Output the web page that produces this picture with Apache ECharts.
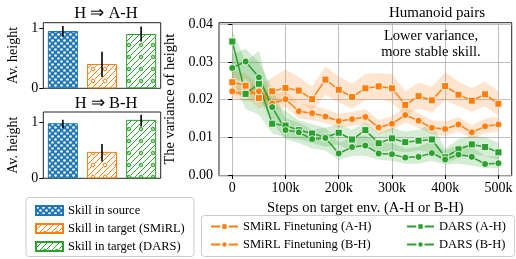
<!DOCTYPE html>
<html>
<head>
<meta charset="utf-8">
<script src="https://cdn.jsdelivr.net/npm/echarts@6/dist/echarts.min.js"></script>
<style>
html,body{margin:0;padding:0;background:#fff}
#chart{width:516px;height:259px}
</style>
</head>
<body>
<div id="chart"></div>
<script>
// --- bar panels (Av. height) ---
const skillNames = ['Skill in source', 'Skill in target (SMiRL)', 'Skill in target (DARS)']
const barCats = ['source', 'smirl', 'dars']
const barsAH = [0.955, 0.405, 0.905]
const errLoAH = [0.86, 0.19, 0.78]
const errHiAH = [1.04, 0.61, 1.03]
const barsBH = [0.98, 0.47, 1.04]
const errLoBH = [0.89, 0.30, 0.92]
const errHiBH = [1.04, 0.61, 1.13]
const barTicks = [0, 1]

// --- variance of height vs steps ---
const steps = [0, 25000, 50000, 75000, 100000, 125000, 150000, 175000, 200000, 225000, 250000,
    275000, 300000, 325000, 350000, 375000, 400000, 425000, 450000, 475000, 500000]
const xTicks = [0, 100000, 200000, 300000, 400000, 500000]
const yTicks = [0, 0.01, 0.02, 0.03, 0.04]

const smirlA = [0.0246, 0.0237, 0.0204, 0.0222, 0.0231, 0.0224, 0.0201, 0.0253, 0.0226, 0.0207, 0.0230,
    0.0235, 0.0230, 0.0186, 0.0209, 0.0198, 0.0236, 0.0213, 0.0197, 0.0214, 0.0189]
const smirlALo = [0.0212, 0.0208, 0.0176, 0.0190, 0.0192, 0.0192, 0.0172, 0.0212, 0.0192, 0.0176, 0.0198,
    0.0202, 0.0192, 0.0158, 0.0176, 0.0166, 0.0198, 0.0182, 0.0168, 0.0182, 0.0158]
const smirlAHi = [0.0278, 0.0268, 0.0238, 0.0258, 0.0280, 0.0260, 0.0235, 0.0288, 0.0262, 0.0242, 0.0268,
    0.0270, 0.0268, 0.0222, 0.0245, 0.0235, 0.0272, 0.0248, 0.0230, 0.0248, 0.0222]

const smirlB = [0.0222, 0.0213, 0.0222, 0.0190, 0.0201, 0.0169, 0.0164, 0.0155, 0.0143, 0.0148, 0.0154,
    0.0126, 0.0136, 0.0159, 0.0144, 0.0125, 0.0122, 0.0134, 0.0113, 0.0129, 0.0134]
const smirlBLo = [0.0205, 0.0195, 0.0200, 0.0170, 0.0180, 0.0150, 0.0145, 0.0138, 0.0125, 0.0130, 0.0135,
    0.0108, 0.0118, 0.0140, 0.0125, 0.0108, 0.0104, 0.0115, 0.0096, 0.0110, 0.0115]
const smirlBHi = [0.0240, 0.0232, 0.0245, 0.0212, 0.0222, 0.0190, 0.0185, 0.0175, 0.0162, 0.0168, 0.0175,
    0.0146, 0.0156, 0.0180, 0.0164, 0.0145, 0.0142, 0.0154, 0.0132, 0.0150, 0.0155]

const darsA = [0.0354, 0.0215, 0.0242, 0.0136, 0.0131, 0.0119, 0.0110, 0.0100, 0.0112, 0.0094, 0.0119,
    0.0084, 0.0097, 0.0087, 0.0091, 0.0094, 0.0047, 0.0068, 0.0081, 0.0074, 0.0060]
const darsALo = [0.0255, 0.0175, 0.0160, 0.0110, 0.0100, 0.0095, 0.0085, 0.0075, 0.0080, 0.0065, 0.0085,
    0.0060, 0.0065, 0.0060, 0.0065, 0.0060, 0.0030, 0.0045, 0.0055, 0.0050, 0.0040]
const darsAHi = [0.0385, 0.0300, 0.0330, 0.0190, 0.0170, 0.0145, 0.0135, 0.0125, 0.0135, 0.0120, 0.0140,
    0.0110, 0.0125, 0.0115, 0.0120, 0.0135, 0.0070, 0.0095, 0.0105, 0.0100, 0.0085]

const darsB = [0.0284, 0.0301, 0.0259, 0.0180, 0.0119, 0.0113, 0.0095, 0.0098, 0.0057, 0.0074, 0.0078,
    0.0057, 0.0055, 0.0046, 0.0048, 0.0058, 0.0041, 0.0054, 0.0048, 0.0029, 0.0031]
const darsBLo = [0.0250, 0.0255, 0.0205, 0.0140, 0.0095, 0.0085, 0.0070, 0.0065, 0.0040, 0.0050, 0.0050,
    0.0040, 0.0038, 0.0030, 0.0030, 0.0038, 0.0028, 0.0030, 0.0025, 0.0018, 0.0018]
const darsBHi = [0.0320, 0.0335, 0.0300, 0.0230, 0.0150, 0.0140, 0.0120, 0.0125, 0.0085, 0.0100, 0.0105,
    0.0085, 0.0085, 0.0070, 0.0075, 0.0090, 0.0065, 0.0080, 0.0075, 0.0050, 0.0050]

const BLUE = '#1f77b4', ORANGE = '#ff7f0e', GREEN = '#2ca02c'
const FONT = 'Liberation Serif'

// hatch patterns
function makePattern(kind, color) {
    const c = document.createElement('canvas')
    const s = kind === 'dots' ? 6 : 12
    c.width = s; c.height = s
    const g = c.getContext('2d')
    if (kind === 'dots') {
        g.fillStyle = color
        g.fillRect(0, 0, s, s)
        g.fillStyle = '#fff'
        ;[[1.5, 1.5], [4.5, 4.5]].forEach(p => {
            g.beginPath(); g.arc(p[0], p[1], 1.3, 0, Math.PI * 2); g.fill()
        })
    } else {
        g.fillStyle = '#fff'
        g.fillRect(0, 0, s, s)
        g.strokeStyle = color
        g.lineWidth = 1
        for (let k = -12; k <= 24; k += 6) {
            g.beginPath(); g.moveTo(k, s); g.lineTo(k + s, 0); g.stroke()
        }
        g.fillStyle = '#fff'
        g.beginPath(); g.arc(9, 9, 2.4, 0, Math.PI * 2); g.fill()
        g.beginPath(); g.arc(9, 9, 1.8, 0, Math.PI * 2); g.stroke()
        if (kind === 'ringdot') {
            g.fillStyle = color
            g.beginPath(); g.arc(9, 9, 0.8, 0, Math.PI * 2); g.fill()
        }
    }
    return { image: c, repeat: 'repeat' }
}
const barStyles = [
    { color: makePattern('dots', BLUE), borderColor: BLUE, borderWidth: 1 },
    { color: makePattern('ring', ORANGE), borderColor: ORANGE, borderWidth: 1 },
    { color: makePattern('ringdot', GREEN), borderColor: GREEN, borderWidth: 1 }
]

const txt = { fontFamily: FONT, color: '#000' }

function barSeries(gi, vals, lo, hi) {
    const out = []
    vals.forEach((v, i) => {
        const d = vals.map((_, j) => j === i ? v : '-')
        out.push({
            type: 'bar', name: skillNames[i], xAxisIndex: gi, yAxisIndex: gi,
            data: d, barWidth: 30, barGap: '-100%', itemStyle: barStyles[i], silent: true
        })
    })
    out.push({
        type: 'custom', xAxisIndex: gi, yAxisIndex: gi, silent: true, z: 5,
        data: vals.map((_, i) => [i, lo[i], hi[i]]),
        renderItem(params, api) {
            const a = api.coord([api.value(0), api.value(1)])
            const b = api.coord([api.value(0), api.value(2)])
            return { type: 'line', shape: { x1: a[0], y1: a[1], x2: b[0], y2: b[1] }, style: { stroke: '#000', lineWidth: 1.6 } }
        }
    })
    return out
}

function bandSeries(lo, hi, color) {
    return {
        type: 'custom', xAxisIndex: 2, yAxisIndex: 2, silent: true, z: 1,
        data: steps.map((s, i) => [s, lo[i], hi[i]]),
        encode: { x: 0, y: [1, 2] },
        renderItem(params, api) {
            if (params.dataIndex !== 0) return null
            const pts = []
            for (let i = 0; i < steps.length; i++) pts.push(api.coord([steps[i], hi[i]]))
            for (let i = steps.length - 1; i >= 0; i--) pts.push(api.coord([steps[i], lo[i]]))
            return { type: 'polygon', shape: { points: pts }, style: { fill: color, stroke: null } }
        }
    }
}

function lineSeries(name, vals, color, symbol) {
    return {
        type: 'line', name, xAxisIndex: 2, yAxisIndex: 2, z: 3,
        data: steps.map((s, i) => [s, vals[i]]),
        symbol, symbolSize: 7, showAllSymbol: true,
        lineStyle: { color, width: 1.5 },
        itemStyle: { color, borderColor: '#fff', borderWidth: 0.8 },
        emphasis: { disabled: true }
    }
}

function barAxes(gi, max) {
    return {
        x: {
            type: 'category', gridIndex: gi, data: barCats,
            axisLine: { show: false }, axisTick: { show: false }, axisLabel: { show: false }
        },
        y: {
            type: 'value', gridIndex: gi, min: 0, max,
            name: 'Av. height', nameLocation: 'middle', nameGap: 23, nameRotate: 90,
            nameTextStyle: { ...txt, fontSize: 14 },
            axisLine: { show: false },
            axisTick: { show: true, length: 4, customValues: barTicks, lineStyle: { color: '#000' } },
            axisLabel: { ...txt, fontSize: 14, margin: 5, customValues: barTicks },
            splitLine: { show: false }
        }
    }
}
const ax0 = barAxes(0, 1.093), ax1 = barAxes(1, 1.18)

const chart = echarts.init(document.getElementById('chart'), null, { renderer: 'canvas' })
chart.setOption({
    animation: false,
    title: [
        { text: 'H \u21D2 A-H', left: 101, top: 0, textAlign: 'center', textStyle: { ...txt, fontSize: 16.5, fontWeight: 'normal' } },
        { text: 'H \u21D2 B-H', left: 101, top: 90, textAlign: 'center', textStyle: { ...txt, fontSize: 16.5, fontWeight: 'normal' } },
        { text: 'Humanoid pairs', left: 432, top: 1, textAlign: 'center', textStyle: { ...txt, fontSize: 15, fontWeight: 'normal' } }
    ],
    grid: [
        { left: 43.3, top: 22.7, width: 117.4, height: 65.6, show: true, borderColor: '#222', borderWidth: 1, backgroundColor: 'transparent' },
        { left: 43.3, top: 112, width: 117.4, height: 66.3, show: true, borderColor: '#222', borderWidth: 1, backgroundColor: 'transparent' },
        { left: 219, top: 22.7, right: 4.3, height: 153, show: true, borderColor: '#222', borderWidth: 1, backgroundColor: 'transparent' }
    ],
    xAxis: [ax0.x, ax1.x, {
        type: 'value', gridIndex: 2, min: -25000, max: 525000,
        name: 'Steps on target env. (A-H or B-H)', nameLocation: 'middle', nameGap: 23,
        nameTextStyle: { ...txt, fontSize: 14.5 },
        axisLine: { show: false },
        axisTick: { show: true, length: 4, customValues: xTicks, lineStyle: { color: '#000' } },
        axisLabel: { ...txt, fontSize: 14, margin: 6, customValues: xTicks, formatter: v => v === 0 ? '0' : (v / 1000) + 'k' },
        splitLine: { show: true, lineStyle: { color: '#b0b0b0', width: 0.8 } }
    }],
    yAxis: [ax0.y, ax1.y, {
        type: 'value', gridIndex: 2, min: -0.0002, max: 0.0404,
        name: 'The variance of height', nameLocation: 'middle', nameGap: 27, nameRotate: 90,
        nameTextStyle: { ...txt, fontSize: 14.5 },
        axisLine: { show: false },
        axisTick: { show: true, length: 4, customValues: yTicks, lineStyle: { color: '#000' } },
        axisLabel: { ...txt, fontSize: 14, margin: 6, customValues: yTicks, formatter: v => v.toFixed(2) },
        splitLine: { show: true, lineStyle: { color: '#b0b0b0', width: 0.8 } }
    }],
    legend: [
        {
            data: skillNames, orient: 'vertical', left: 30, top: 199, itemGap: 5,
            itemWidth: 27, itemHeight: 9, icon: 'rect', selectedMode: false,
            textStyle: { ...txt, fontSize: 12.5 }
        },
        {
            data: ['SMiRL Finetuning (A-H)', 'SMiRL Finetuning (B-H)'], orient: 'vertical', left: 205, top: 215, itemGap: 5,
            itemWidth: 27, itemHeight: 8, selectedMode: false, textStyle: { ...txt, fontSize: 12.5 }
        },
        {
            data: ['DARS (A-H)', 'DARS (B-H)'], orient: 'vertical', left: 401, top: 215, itemGap: 5,
            itemWidth: 27, itemHeight: 8, selectedMode: false, textStyle: { ...txt, fontSize: 12.5 }
        }
    ],
    graphic: [
        { type: 'rect', shape: { x: 26, y: 197.5, width: 168, height: 59, r: 3 }, style: { fill: '#fff', stroke: '#ccc', lineWidth: 1 }, z: 0 },
        { type: 'rect', shape: { x: 201.5, y: 215.5, width: 313, height: 41, r: 3 }, style: { fill: '#fff', stroke: '#ccc', lineWidth: 1 }, z: 0 },
        { type: 'text', x: 431, y: 28, style: { text: 'Lower variance,\nmore stable skill.', font: '14.5px "Liberation Serif"', fill: '#000', align: 'center', textAlign: 'center', lineHeight: 16 }, z: 10 }
    ],
    series: [
        ...barSeries(0, barsAH, errLoAH, errHiAH),
        ...barSeries(1, barsBH, errLoBH, errHiBH),
        bandSeries(smirlALo, smirlAHi, 'rgba(255,127,14,0.2)'),
        bandSeries(smirlBLo, smirlBHi, 'rgba(255,127,14,0.2)'),
        bandSeries(darsALo, darsAHi, 'rgba(44,160,44,0.2)'),
        bandSeries(darsBLo, darsBHi, 'rgba(44,160,44,0.2)'),
        lineSeries('SMiRL Finetuning (A-H)', smirlA, ORANGE, 'rect'),
        lineSeries('SMiRL Finetuning (B-H)', smirlB, ORANGE, 'circle'),
        lineSeries('DARS (A-H)', darsA, GREEN, 'rect'),
        lineSeries('DARS (B-H)', darsB, GREEN, 'circle')
    ]
})
</script>
</body>
</html>
